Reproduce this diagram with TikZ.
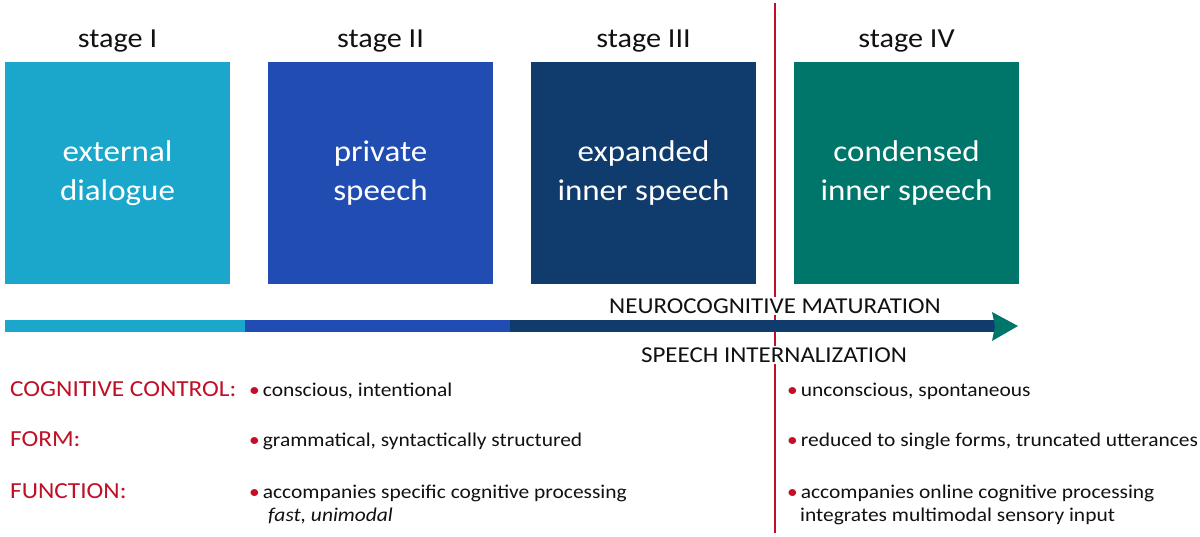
\documentclass[tikz,border=0pt]{standalone}
\usepackage{fontspec}
\setmainfont{Carlito}[FakeStretch=1.1]
\definecolor{cyanc}{HTML}{1AA7CB}
\definecolor{bluec}{HTML}{214DB2}
\definecolor{navyc}{HTML}{0F3C6D}
\definecolor{tealc}{HTML}{00766A}
\definecolor{redc}{HTML}{C01028}
\definecolor{textc}{HTML}{111111}
\begin{document}
\begin{tikzpicture}[x=1pt,y=-1pt,
  stagebox/.style={minimum width=225pt, minimum height=222pt, inner sep=0pt, text=white,
    font=\fontsize{30}{39}\selectfont, align=center},
  stagelabel/.style={anchor=base, text=textc, font=\fontsize{27.5}{30}\selectfont, inner sep=0pt},
  axislabel/.style={text=textc, font=\fontsize{22.7}{25}\selectfont, fill=white, inner sep=1.5pt, anchor=base},
  rowlabel/.style={anchor=base west, text=redc, font=\fontsize{23}{26}\selectfont, inner sep=0pt},
  itemtext/.style={anchor=base west, text=textc, font=\fontsize{19.5}{24}\selectfont, inner sep=0pt},
  barseg/.style={line width=12pt, line cap=butt},
  redline/.style={draw=redc, line width=2.6pt}
]
\useasboundingbox[fill=white] (0,0) rectangle (1200,536);
\newcommand{\bul}{\textcolor{redc}{•}\hspace{3pt}}

% stage boxes
\node[stagebox, fill=cyanc] (b1) at (117.5,173) {external\\dialogue};
\node[stagebox, fill=bluec] (b2) at (380.5,173) {private\\speech};
\node[stagebox, fill=navyc] (b3) at (643.5,173) {expanded\\inner speech};
\node[stagebox, fill=tealc] (b4) at (906.5,173) {condensed\\inner speech};

% stage labels
\node[stagelabel] (s1) at (117.5,47) {stage I};
\node[stagelabel] (s2) at (380.5,47) {stage II};
\node[stagelabel] (s3) at (643.5,47) {stage III};
\node[stagelabel] (s4) at (906.5,47) {stage IV};

% red separator
\coordinate (rtop) at (775,3);
\coordinate (rbot) at (775,533);
\draw[redline] (rtop) -- (rbot);

% arrow bar
\coordinate (a0) at (5,326);
\coordinate (a1) at (245,326);
\coordinate (a2) at (510,326);
\coordinate (a3) at (995,326);
\coordinate (tip) at (1018,326);
\draw[barseg, cyanc] (a0) -- (a1);
\draw[barseg, bluec] (a1) -- (a2);
\draw[barseg, navyc] (a2) -- (a3);
\fill[tealc] (992,312) -- (tip) -- (992,341) -- (995,326) -- cycle;

\node[axislabel] (neuro) at (775,313) {NEUROCOGNITIVE MATURATION};
\node[axislabel] (speech) at (774,362) {SPEECH INTERNALIZATION};

% row labels
\node[rowlabel] (l1) at (10,396) {COGNITIVE CONTROL:};
\node[rowlabel] (l2) at (10,446) {FORM:};
\node[rowlabel] (l3) at (10,498) {FUNCTION:};

% left items
\node[itemtext] (p1) at (249,396) {\bul conscious, intentional};
\node[itemtext] (p2) at (249,446) {\bul grammatical, syntactically structured};
\node[itemtext] (p3) at (249,498) {\bul accompanies specific cognitive processing};
\node[itemtext] (p4) at (268,521) {\itshape fast, unimodal};

% right items
\node[itemtext] (q1) at (787,396) {\bul unconscious, spontaneous};
\node[itemtext] (q2) at (787,446) {\bul reduced to single forms, truncated utterances};
\node[itemtext] (q3) at (787,498) {\bul accompanies online cognitive processing};
\node[itemtext] (q4) at (800,521) {integrates multimodal sensory input};
\end{tikzpicture}
\end{document}
